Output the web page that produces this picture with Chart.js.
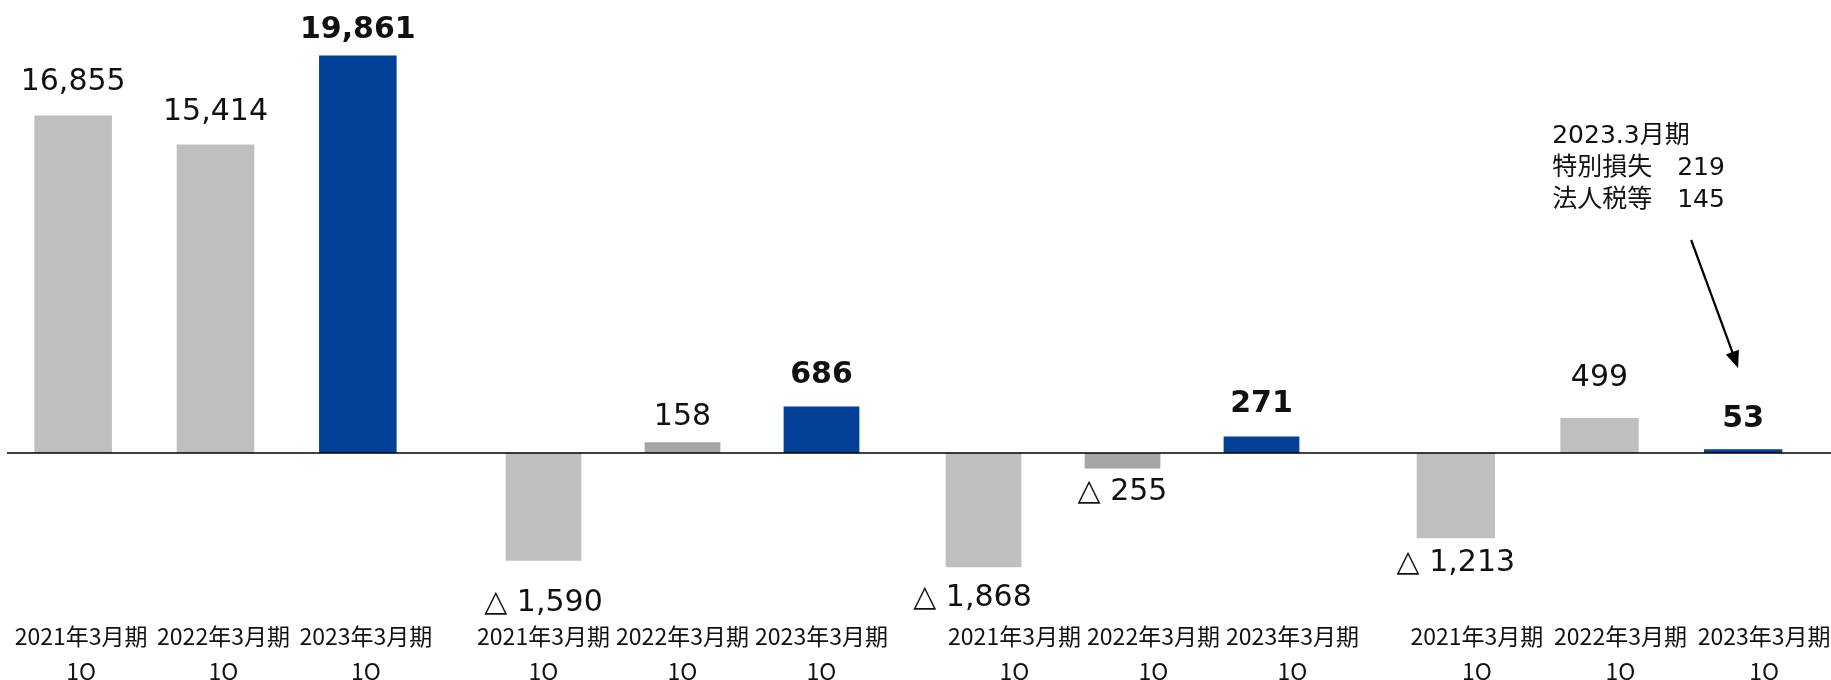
<!DOCTYPE html>
<html lang="ja">
<head>
<meta charset="utf-8">
<script src="https://cdn.jsdelivr.net/npm/chart.js@4/dist/chart.umd.min.js"></script>
<style>
html, body { margin: 0; padding: 0; background: #fff; }
body { width: 1831px; height: 680px; overflow: hidden; position: relative; }
canvas { position: absolute; top: 0; }
</style>
</head>
<body>
<canvas id="c1"></canvas>
<canvas id="c2"></canvas>
<canvas id="c3"></canvas>
<canvas id="c4"></canvas>
<script>
// data, one array per panel (each panel has its own scale)
var periods = ['2021年3月期', '2022年3月期', '2023年3月期'];
var quarter = '1Q';
var sales = [16855, 15414, 19861];
var operatingProfit = [-1590, 158, 686];
var ordinaryProfit = [-1868, -255, 271];
var netProfit = [-1213, 499, 53];
var noteTitle = '2023.3月期';
var noteItems = ['特別損失', '法人税等'];
var noteValues = [219, 145];

var GREY = '#bfbfbf', DARK_GREY = '#a6a6a6', BLUE = '#004097';
var CANVAS_H = 693, AREA_H = 613, ZERO_Y = 451.5;

function fmt(v) {
    var s = Math.abs(v).toLocaleString('en-US');
    return v < 0 ? '△ ' + s : s;
}

function yRange(pxPerUnit) {
    return { min: -(AREA_H - ZERO_Y) / pxPerUnit, max: ZERO_Y / pxPerUnit };
}

var valueLabels = {
    id: 'valueLabels',
    afterDatasetsDraw: function (chart, args, opts) {
        var ctx = chart.ctx;
        var ds = chart.data.datasets[0];
        var meta = chart.getDatasetMeta(0);
        var gaps = opts.gaps || [];
        var shifts = opts.shifts || [];
        ctx.save();
        ctx.fillStyle = '#111';
        ctx.textAlign = 'center';
        ctx.textBaseline = 'middle';
        meta.data.forEach(function (bar, i) {
            var v = ds.data[i];
            var g = gaps[i] || 30;
            ctx.font = (i === 2 ? 'bold ' : '') + '30px "DejaVu Sans", sans-serif';
            var y = v < 0 ? bar.y + g : bar.y - g;
            ctx.fillText(fmt(v), bar.x + (shifts[i] || 0), y);
        });
        ctx.restore();
    }
};

var zeroLine = {
    id: 'zeroLine',
    afterDatasetsDraw: function (chart, args, opts) {
        var ctx = chart.ctx;
        var y = chart.scales.y.getPixelForValue(0);
        ctx.save();
        ctx.strokeStyle = '#000';
        ctx.lineWidth = 1.6;
        ctx.beginPath();
        ctx.moveTo(opts.start || 0, y);
        ctx.lineTo(opts.end || chart.width, y);
        ctx.stroke();
        ctx.restore();
    }
};

var note = {
    id: 'note',
    afterDraw: function (chart, args, opts) {
        if (!opts.show) return;
        var ctx = chart.ctx;
        var bar = chart.getDatasetMeta(0).data[2];
        var x0 = bar.x - 191;
        ctx.save();
        ctx.fillStyle = '#111';
        ctx.textBaseline = 'middle';
        ctx.font = '25px "DejaVu Sans", "Noto Sans CJK JP", sans-serif';
        ctx.fillText(noteTitle, x0, 136);
        noteItems.forEach(function (t, i) {
            ctx.fillText(t, x0, 168 + i * 32);
            ctx.fillText(String(noteValues[i]), x0 + 125, 168 + i * 32);
        });
        // arrow to the latest bar
        var sx = bar.x - 52, sy = 240, tx = bar.x - 5, ty = 368;
        var ang = Math.atan2(ty - sy, tx - sx);
        ctx.strokeStyle = '#000';
        ctx.lineWidth = 2.2;
        ctx.beginPath();
        ctx.moveTo(sx, sy);
        ctx.lineTo(tx - 12 * Math.cos(ang), ty - 12 * Math.sin(ang));
        ctx.stroke();
        ctx.fillStyle = '#000';
        ctx.beginPath();
        ctx.moveTo(tx, ty);
        ctx.lineTo(tx - 17 * Math.cos(ang) + 7 * Math.sin(ang), ty - 17 * Math.sin(ang) - 7 * Math.cos(ang));
        ctx.lineTo(tx - 17 * Math.cos(ang) - 7 * Math.sin(ang), ty - 17 * Math.sin(ang) + 7 * Math.cos(ang));
        ctx.closePath();
        ctx.fill();
        ctx.restore();
    }
};

function newPanel(id, left, width, pad, values, colors, pxPerUnit, extra) {
    var canvas = document.getElementById(id);
    canvas.width = width;
    canvas.height = CANVAS_H;
    canvas.style.left = left + 'px';
    var range = yRange(pxPerUnit);
    return new Chart(canvas.getContext('2d'), {
        type: 'bar',
        data: {
            labels: periods.map(function (p) { return [p, quarter]; }),
            datasets: [{
                data: values,
                backgroundColor: colors,
                borderWidth: 0,
                categoryPercentage: 1,
                barPercentage: 0.545
            }]
        },
        options: {
            responsive: false,
            animation: false,
            layout: { padding: { left: pad[0], right: pad[1], top: 0, bottom: 0 } },
            plugins: {
                legend: { display: false },
                tooltip: { enabled: false },
                zeroLine: { start: extra.lineStart || 0, end: extra.lineEnd },
                valueLabels: { gaps: extra.gaps, shifts: extra.shifts },
                note: { show: !!extra.note }
            },
            scales: {
                x: {
                    grid: { display: false, drawTicks: false },
                    border: { display: false },
                    ticks: {
                        color: '#111',
                        padding: 4,
                        maxRotation: 0,
                        autoSkip: false,
                        labelOffset: extra.labelShift || 0,
                        font: { family: '"Noto Sans CJK JP", sans-serif', size: 23, lineHeight: '35px' }
                    }
                },
                y: { display: false, min: range.min, max: range.max }
            }
        },
        plugins: [zeroLine, valueLabels, note]
    });
}

newPanel('c1', 0, 452, [2, 23], sales, [GREY, GREY, BLUE], 0.01995,
    { lineStart: 7, gaps: [33, 32.5, 25], labelShift: 8 });
newPanel('c2', 452, 451, [22, 12], operatingProfit, [GREY, DARK_GREY, BLUE], 0.0675,
    { gaps: [43, 25, 31.5], labelShift: 0 });
newPanel('c3', 903, 480, [11, 52], ordinaryProfit, [GREY, DARK_GREY, BLUE], 0.061,
    { lineEnd: 455, gaps: [31, 24, 32], shifts: [-11, 0, 0], labelShift: 31 });
newPanel('c4', 1358, 473, [26, 16], netProfit, [GREY, GREY, BLUE], 0.07,
    { note: true, gaps: [25, 39.5, 30], labelShift: 21 });
</script>
</body>
</html>
